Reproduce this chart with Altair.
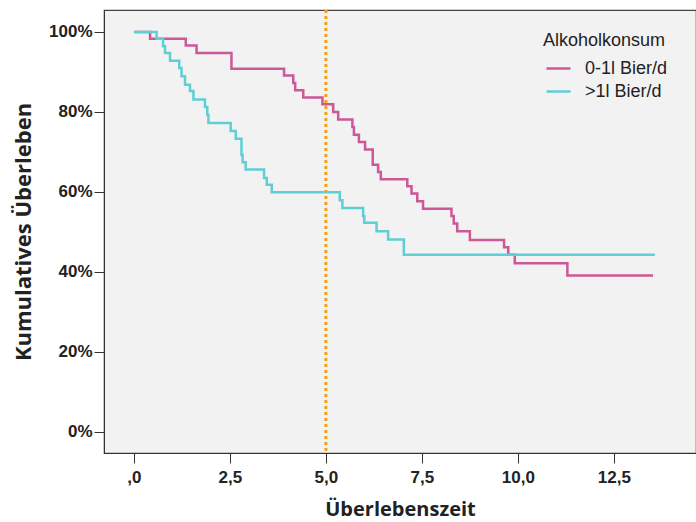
import altair as alt
import pandas as pd

# Kaplan-Meier step data (time in years, survival in %)
pink_t = [0, 0.42, 1.35, 1.63, 2.54, 3.91, 4.15, 4.20, 4.41, 4.91, 5.19, 5.32, 5.69, 5.73,
          5.86, 6.02, 6.22, 6.36, 6.43, 7.12, 7.23, 7.38, 7.53, 8.27, 8.33, 8.42, 8.75,
          9.64, 9.75, 9.92, 11.29, 13.52]
pink_s = [100, 98.3, 96.6, 94.7, 90.8, 89.1, 87.2, 85.4, 83.6, 81.9, 80.0, 78.1, 76.2, 74.3,
          72.5, 70.6, 66.8, 65.0, 63.2, 61.4, 59.6, 57.7, 55.8, 54.0, 52.1, 50.2, 48.0,
          46.2, 44.3, 42.2, 39.1, 39.1]

teal_t = [0, 0.59, 0.76, 0.81, 0.94, 1.18, 1.24, 1.33, 1.46, 1.55, 1.85, 1.91, 1.94, 2.52,
          2.65, 2.80, 2.83, 2.91, 3.39, 3.46, 3.59, 5.36, 5.43, 5.97, 6.00, 6.32, 6.62,
          7.03, 13.57]
teal_s = [100, 98.3, 96.4, 94.7, 92.8, 91.0, 88.9, 86.8, 85.2, 83.1, 81.2, 79.3, 77.2, 75.2,
          73.3, 69.3, 67.4, 65.6, 63.5, 61.8, 59.9, 57.9, 56.0, 53.9, 52.3, 50.2, 48.1,
          44.3, 44.3]

groups = ["0-1l Bier/d", ">1l Bier/d"]
colors = ["#cc5896", "#5ecfd5"]
ref_x = [5.0]
x_ticks = [0, 2.5, 5, 7.5, 10, 12.5]
y_ticks = [0, 0.2, 0.4, 0.6, 0.8, 1.0]

rows = []
for t, s in zip(pink_t, pink_s):
    rows.append({"t": t, "s": s / 100, "g": groups[0]})
for t, s in zip(teal_t, teal_s):
    rows.append({"t": t, "s": s / 100, "g": groups[1]})
df = pd.DataFrame(rows)

xscale = alt.Scale(domain=[-0.78, 14.64], nice=False, zero=False)
yscale = alt.Scale(domain=[-0.0525, 1.0547], nice=False, zero=False)

lines = alt.Chart(df).mark_line(interpolate="step-after", strokeWidth=2.5, clip=True).encode(
    x=alt.X("t:Q", scale=xscale,
            axis=alt.Axis(title="Überlebenszeit", values=x_ticks,
                          labelExpr="datum.value == 0 ? ',0' : replace(format(datum.value, '.1f'), '.', ',')",
                          grid=False, tickSize=10, tickColor="#333", domainColor="#333",
                          labelFont="Liberation Sans", labelFontWeight="bold", labelFontSize=17,
                          labelColor="#222", labelPadding=6,
                          titleFont="Open Sans", titleFontWeight="bold", titleFontSize=20,
                          titleColor="#222", titlePadding=14)),
    y=alt.Y("s:Q", scale=yscale,
            axis=alt.Axis(title="Kumulatives Überleben", values=y_ticks,
                          format=".0%", grid=False, tickSize=10, tickColor="#333",
                          domainColor="#333",
                          labelFont="Liberation Sans", labelFontWeight="bold", labelFontSize=17,
                          labelColor="#222", labelPadding=2,
                          titleFont="Open Sans", titleFontWeight="bold", titleFontSize=22,
                          titleColor="#222", titlePadding=13)),
    color=alt.Color("g:N", scale=alt.Scale(domain=groups, range=colors),
                    legend=alt.Legend(title="Alkoholkonsum", orient="none",
                                      legendX=439, legendY=22,
                                      symbolType="stroke", symbolStrokeWidth=2.5,
                                      symbolSize=576, labelFont="Liberation Sans",
                                      labelFontSize=18, labelColor="#222",
                                      titleFont="Liberation Sans", titleFontSize=18,
                                      titleFontWeight="normal", titleColor="#222",
                                      titlePadding=5, rowPadding=-4, labelOffset=13,
                                      symbolOffset=2)),
)

rule_df = pd.DataFrame({"x": ref_x})
rule = alt.Chart(rule_df).mark_rule(color="#f5a01a", strokeWidth=3, strokeDash=[3, 3]).encode(
    x=alt.X("x:Q", scale=xscale)
)

chart = alt.layer(rule, lines).properties(
    width=592, height=443,
    autosize=alt.AutoSizeParams(type="none"),
    padding={"left": 104, "top": 10, "right": 0, "bottom": 69},
    background="white",
).configure_view(
    fill="#f2f2f2", stroke="#444", strokeWidth=1.2
)

chart.save("out.html", embed_options={"renderer": "svg", "actions": False})
